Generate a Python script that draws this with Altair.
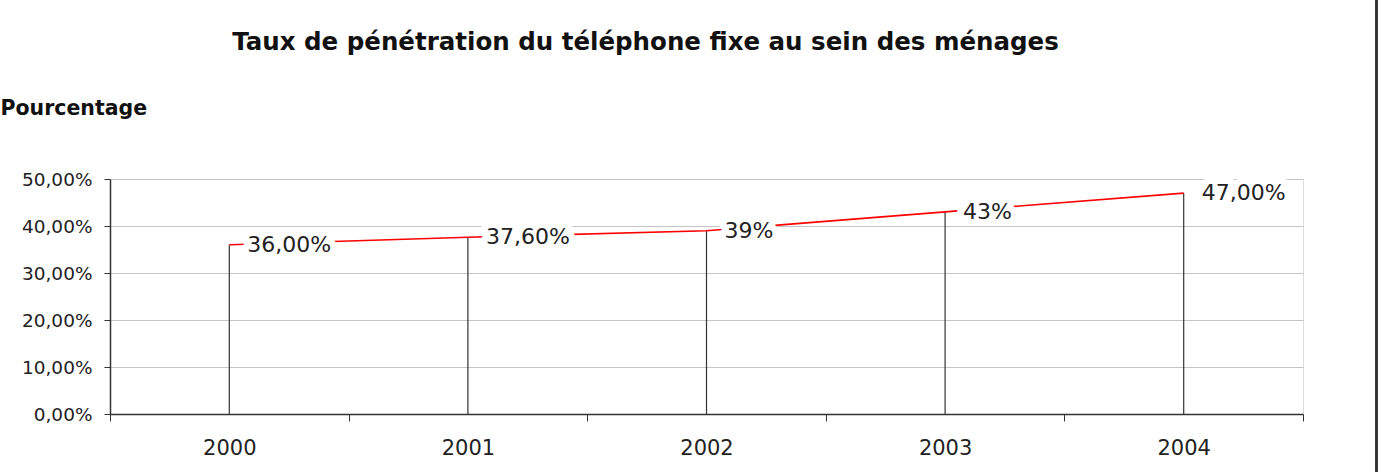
import altair as alt
import pandas as pd

years = ["2000", "2001", "2002", "2003", "2004"]
values = [36.0, 37.6, 39.0, 43.0, 47.0]
labels = ["36,00%", "37,60%", "39%", "43%", "47,00%"]

df = pd.DataFrame({"year": years, "value": values, "label": labels})

FONT = "DejaVu Sans"

x_enc = alt.X(
    "year:N",
    sort=years,
    scale=alt.Scale(paddingInner=0, paddingOuter=0),
    axis=alt.Axis(
        title=None,
        labelAngle=0,
        labelFont=FONT,
        labelFontSize=21,
        labelColor="#222222",
        labelPadding=16,
        tickBand="extent",
        tickSize=7,
        tickColor="#333333",
        domainColor="#333333",
        domainWidth=1.5,
        grid=False,
    ),
)

y_enc = alt.Y(
    "value:Q",
    scale=alt.Scale(domain=[0, 50]),
    axis=alt.Axis(
        values=[0, 10, 20, 30, 40, 50],
        labelExpr="replace(format(datum.value, '.2f'), '.', ',') + '%'",
        labelFont=FONT,
        labelFontSize=18.5,
        labelColor="#222222",
        labelPadding=12,
        tickSize=6,
        tickColor="#333333",
        domainColor="#333333",
        domainWidth=1.5,
        gridColor="#c4c4c4",
        title="Pourcentage",
        titleFont=FONT,
        titleFontSize=20.5,
        titleFontWeight="bold",
        titleColor="#111111",
        titleAngle=0,
        titleAlign="left",
        titleBaseline="middle",
        titleX=-110,
        titleY=-71,
    ),
)

base = alt.Chart(df)

drops = base.mark_rule(color="#333333", strokeWidth=1.2).encode(
    x=x_enc, y=y_enc, y2=alt.datum(0)
)

line = base.mark_line(color="#ff0000", strokeWidth=1.6).encode(x=x_enc, y=y_enc)

halo = base.mark_text(
    align="left", baseline="middle", dx=18, font=FONT, fontSize=22,
    fill="white", stroke="white", strokeWidth=14, strokeJoin="round",
).encode(x=x_enc, y=y_enc, text="label:N")

text = base.mark_text(
    align="left", baseline="middle", dx=18, font=FONT, fontSize=22,
    color="#222222",
).encode(x=x_enc, y=y_enc, text="label:N")

border = alt.Chart(df).mark_rule(color="#333333", strokeWidth=2).encode(
    x=alt.value(1266.5), y=alt.value(-179), y2=alt.value(293)
)

chart = (
    alt.layer(drops, line, halo, text, border)
    .properties(
        width=1193,
        height=235,
        autosize=alt.AutoSizeParams(type="none"),
        padding={"left": 110, "top": 179, "right": 78, "bottom": 58},
        title=alt.TitleParams(
            "Taux de pénétration du téléphone fixe au sein des ménages",
            font=FONT,
            fontSize=24.5,
            fontWeight="bold",
            color="#111111",
            anchor="middle",
            frame="group",
            dx=-61,
            baseline="bottom",
            offset=-80,
        ),
    )
    .configure_view(stroke="#999999", strokeWidth=1.5)
    .configure(background="white")
)

chart.save("out.html", embed_options={"renderer": "svg", "actions": False})
